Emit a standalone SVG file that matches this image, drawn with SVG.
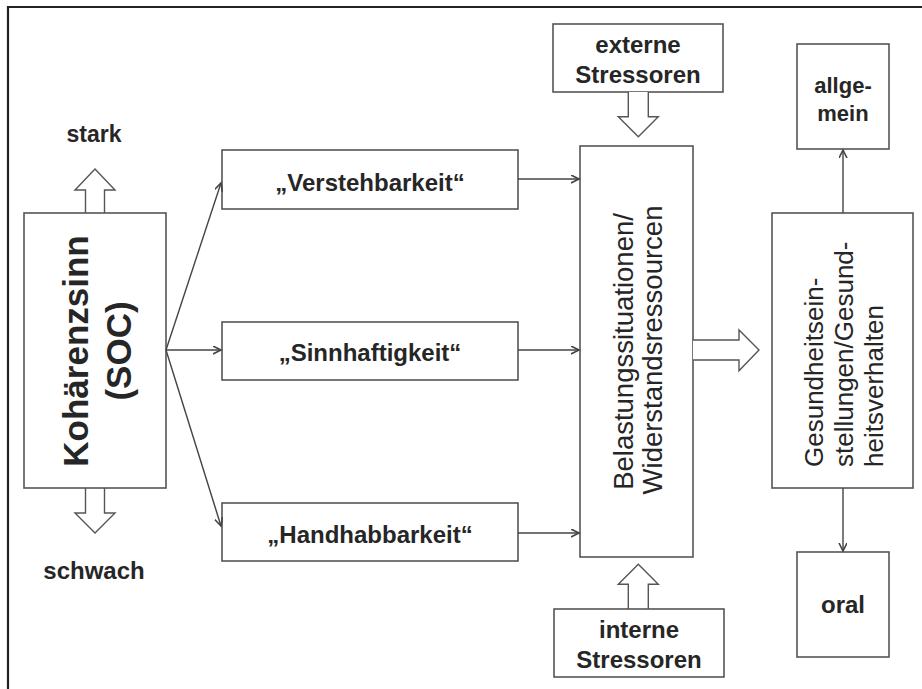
<svg xmlns="http://www.w3.org/2000/svg" width="922" height="689" viewBox="0 0 922 689">
<defs>
<style>
.box{fill:#fff;stroke:#555;stroke-width:1.6}
.t{font-family:"Liberation Sans",Arial,sans-serif;fill:#262626}
.b{font-weight:bold}
.c{stroke:#444;stroke-width:1.4;fill:none}
.h{fill:#fff;stroke:#555;stroke-width:1.4}
</style>
<marker id="ah" markerWidth="10" markerHeight="10" refX="8" refY="4" orient="auto" markerUnits="userSpaceOnUse">
<path d="M0,0 L8,4 L0,8" fill="none" stroke="#444" stroke-width="1.6"/>
</marker>
</defs>
<rect width="922" height="689" fill="#fff"/>
<path d="M8,689 L8,7 L922,7" fill="none" stroke="#222" stroke-width="2.2"/>

<g id="stark">
<text class="t b" x="94" y="142" font-size="23" text-anchor="middle">stark</text>
<path class="h" d="M85.5,213 L85.5,190 L75,190 L95,169 L115,190 L104.5,190 L104.5,213"/>
</g>
<g id="schwach">
<path class="h" d="M85.5,488 L85.5,513 L75,513 L95,533 L115,513 L104.5,513 L104.5,488"/>
<text class="t b" x="94" y="579" font-size="24" text-anchor="middle">schwach</text>
</g>
<g id="soc">
<rect class="box" x="24" y="213" width="142" height="275"/>
<text class="t b" font-size="35" text-anchor="middle" transform="translate(88,351) rotate(-90)">Kohärenzsinn</text>
<text class="t b" font-size="35" text-anchor="middle" transform="translate(131,351) rotate(-90)">(SOC)</text>
</g>
<g id="verstehbarkeit">
<rect class="box" x="222" y="150" width="296" height="59"/>
<text class="t b" x="370" y="191" font-size="24" text-anchor="middle">„Verstehbarkeit“</text>
</g>
<g id="sinnhaftigkeit">
<rect class="box" x="222" y="322" width="296" height="58"/>
<text class="t b" x="370" y="361" font-size="24" text-anchor="middle">„Sinnhaftigkeit“</text>
</g>
<g id="handhabbarkeit">
<rect class="box" x="222" y="503" width="296" height="58"/>
<text class="t b" x="370" y="543" font-size="24" text-anchor="middle">„Handhabbarkeit“</text>
</g>
<g id="extern">
<rect class="box" x="553" y="24" width="170" height="68"/>
<text class="t b" x="638" y="53" font-size="24" text-anchor="middle">externe</text>
<text class="t b" x="638" y="83" font-size="24" text-anchor="middle">Stressoren</text>
<path class="h" d="M628.3,92 L628.3,116.7 L618.3,116.7 L638.3,136.7 L658.3,116.7 L648.3,116.7 L648.3,92"/>
</g>
<g id="belastung">
<rect class="box" x="580" y="146" width="113" height="411"/>
<text class="t" font-size="27.5" text-anchor="middle" transform="translate(633,351.5) rotate(-90)">Belastungssituationen/</text>
<text class="t" font-size="27.5" text-anchor="middle" transform="translate(662,350) rotate(-90)">Widerstandsressourcen</text>
</g>
<g id="intern">
<path class="h" d="M628.3,609 L628.3,584.3 L618.3,584.3 L638.3,564.3 L658.3,584.3 L648.3,584.3 L648.3,609"/>
<rect class="box" x="554" y="609" width="170" height="68"/>
<text class="t b" x="639" y="638" font-size="24" text-anchor="middle">interne</text>
<text class="t b" x="639" y="668" font-size="24" text-anchor="middle">Stressoren</text>
</g>
<g id="gesundheit">
<rect class="box" x="772" y="213" width="141" height="275"/>
<text class="t" font-size="26" transform="translate(823,467) rotate(-90)">Gesundheitsein-</text>
<text class="t" font-size="26" transform="translate(853,467) rotate(-90)">stellungen/Gesund-</text>
<text class="t" font-size="26" transform="translate(883,467) rotate(-90)">heitsverhalten</text>
</g>
<g id="allgemein">
<rect class="box" x="797" y="44" width="92" height="105"/>
<text class="t b" x="843" y="93" font-size="22" text-anchor="middle">allge-</text>
<text class="t b" x="843" y="121" font-size="22" text-anchor="middle">mein</text>
</g>
<g id="oral">
<rect class="box" x="797" y="552" width="92" height="105"/>
<text class="t b" x="843" y="613" font-size="24" text-anchor="middle">oral</text>
</g>
<g id="connectors">
<path class="c" d="M166,350 L221,183" marker-end="url(#ah)"/>
<path class="c" d="M166,350 L221,350" marker-end="url(#ah)"/>
<path class="c" d="M166,350 L221,526" marker-end="url(#ah)"/>
<path class="c" d="M518,179 L579,179" marker-end="url(#ah)"/>
<path class="c" d="M518,350 L579,350" marker-end="url(#ah)"/>
<path class="c" d="M518,533 L579,533" marker-end="url(#ah)"/>
<path class="c" d="M843,213 L843,150" marker-end="url(#ah)"/>
<path class="c" d="M843,488 L843,551" marker-end="url(#ah)"/>
<path class="h" d="M693,340 L739,340 L739,330 L759,350 L739,370.7 L739,360 L693,360"/>
</g>
</svg>
